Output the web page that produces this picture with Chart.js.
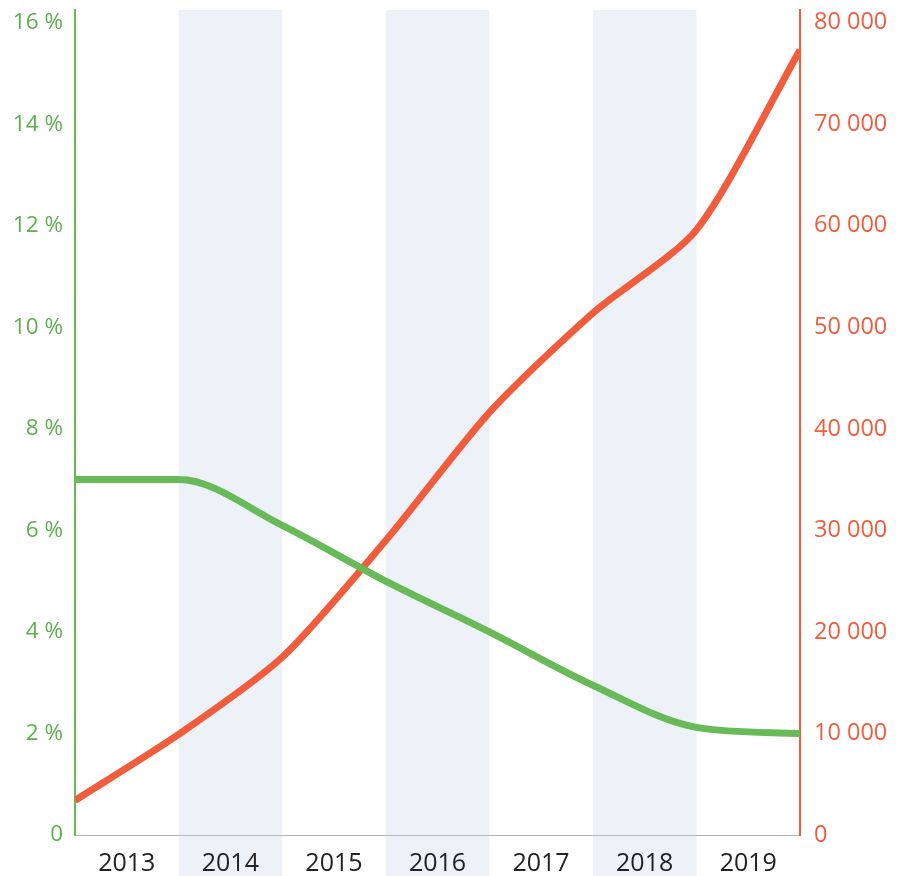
<!DOCTYPE html>
<html>
<head>
<meta charset="utf-8">
<script src="https://cdn.jsdelivr.net/npm/chart.js@4"></script>
<style>
  html, body { margin: 0; padding: 0; background: #fff; }
  #wrap { width: 905px; height: 876px; }
</style>
</head>
<body>
<div id="wrap"><canvas id="c" width="905" height="876"></canvas></div>
<script>
'use strict';

// ── Data ─────────────────────────────────────────────────────────
const years = ['2013', '2014', '2015', '2016', '2017', '2018', '2019'];
// values at year boundaries (start of 2013 … end of 2019)
const rateValues  = [7.0, 7.0, 6.1, 5.0, 4.0, 2.95, 2.12, 2.0];
const countValues = [3400, 9900, 17500, 29000, 41600, 51400, 59600, 77300];
const rateTicks   = [0, 2, 4, 6, 8, 10, 12, 14, 16];
const countTicks  = [0, 10000, 20000, 30000, 40000, 50000, 60000, 70000, 80000];
const shadedYears = ['2014', '2016', '2018'];

// ── Styles ───────────────────────────────────────────────────────
const GREEN = '#68ba58';
const GREEN_TEXT = '#5db04d';
const RED = '#f15d3c';
const BAND = '#edf2f9';
const FONT = "'Open Sans', sans-serif";

const fmtThousands = (v) => String(v).replace(/\B(?=(\d{3})+(?!\d))/g, ' ');

const bandPlugin = {
  id: 'bands',
  beforeDraw(chart) {
    const { ctx, chartArea, scales: { x } } = chart;
    ctx.save();
    ctx.fillStyle = BAND;
    shadedYears.forEach((yr) => {
      const i = years.indexOf(yr);
      const x0 = x.getPixelForValue(i);
      const x1 = x.getPixelForValue(i + 1);
      ctx.fillRect(x0, chartArea.top, x1 - x0, chart.height - chartArea.top);
    });
    ctx.restore();
  },
};

const pts = (arr) => arr.map((v, i) => ({ x: i, y: v }));

// y axes: fixed width, no extra room reserved for the top label
const fitY = (w) => (s) => { s.width = w; s.paddingTop = 0; s.paddingBottom = 0; };

new Chart(document.getElementById('c'), {
  type: 'line',
  data: {
    datasets: [
      {
        data: pts(rateValues),
        borderColor: GREEN,
        borderWidth: 7,
        pointRadius: 0,
        cubicInterpolationMode: 'monotone',
        yAxisID: 'yL',
      },
      {
        data: pts(countValues),
        borderColor: RED,
        borderWidth: 7,
        pointRadius: 0,
        tension: 0.25,
        yAxisID: 'yR',
      },
    ],
  },
  options: {
    responsive: false,
    animation: false,
    layout: { padding: { top: 10 } },
    plugins: { legend: { display: false }, tooltip: { enabled: false } },
    scales: {
      x: {
        type: 'linear',
        min: 0,
        max: years.length,
        grid: { display: false },
        border: { display: true, color: '#b4b4b4', width: 1 },
        afterBuildTicks: (s) => { s.ticks = years.map((_, i) => ({ value: i + 0.5 })); },
        afterFit: (s) => { s.height = 41; },
        ticks: {
          autoSkip: false,
          maxRotation: 0,
          padding: 6,
          color: '#222',
          font: { family: FONT, size: 25 },
          callback: (v) => years[Math.floor(v)],
        },
      },
      yL: {
        position: 'left',
        min: 0,
        max: 16.25,
        grid: { display: false },
        border: { display: true, color: GREEN, width: 2 },
        afterBuildTicks: (s) => { s.ticks = rateTicks.map((v) => ({ value: v })); },
        afterFit: fitY(75),
        ticks: {
          padding: 4,
          color: GREEN_TEXT,
          font: { family: FONT, size: 22.5 },
          callback: (v) => (v === 0 ? '0' : v + ' %'),
        },
      },
      yR: {
        position: 'right',
        min: 0,
        max: 81250,
        grid: { display: false },
        border: { display: true, color: RED, width: 2 },
        afterBuildTicks: (s) => { s.ticks = countTicks.map((v) => ({ value: v })); },
        afterFit: fitY(105),
        ticks: {
          padding: 6,
          color: RED,
          font: { family: FONT, size: 23.5 },
          callback: (v) => fmtThousands(v),
        },
      },
    },
  },
  plugins: [bandPlugin],
});
</script>
</body>
</html>
